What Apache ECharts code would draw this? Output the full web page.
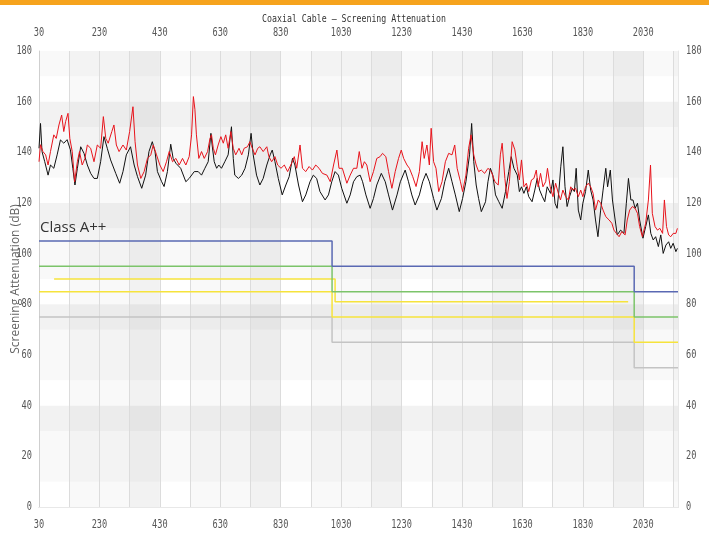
<!DOCTYPE html>
<html>
<head>
<meta charset="utf-8">
<script src="https://cdn.jsdelivr.net/npm/echarts/dist/echarts.min.js"></script>
<style>
html,body{margin:0;padding:0;background:#fff;}
#chart{width:709px;height:541px;}
</style>
</head>
<body>
<div id="chart"></div>
<script>
// ---- Data ----
const chartTitle = 'Coaxial Cable – Screening Attenuation';
const yAxisName = 'Screening Attenuation (dB)';
const classLabel = 'Class A++';

const xMin = 30, xMax = 2145;
const yMin = 0, yMax = 180;
const xTickLabels = [30, 230, 430, 630, 830, 1030, 1230, 1430, 1630, 1830, 2030];
const yTickLabels = [0, 20, 40, 60, 80, 100, 120, 140, 160, 180];

// black trace: frequency / attenuation
const blackFreq = [30,35,40,49,60,68,79,90,101,112,123,134,142,149,157,168,179,190,201,212,223,234,245,256,267,284,297,308,319,333,345,356,370,383,394,405,414,422,436,444,455,466,474,483,499,516,527,544,
557,568,579,590,599,603,610,618,625,634,645,656,667,673,678,690,701,712,723,732,739,750,761,772,784,795,802,811,822,835,847,858,869,877,889,902,913,927,938,949,960,977,988,999,1010,1021,1032,1049,1060,1071,
1082,1093,1101,1112,1126,1137,1148,1163,1176,1187,1200,1215,1226,1242,1253,1264,1275,1289,1300,1311,1322,1336,1347,1362,1373,1386,1397,1408,1421,1432,1443,1455,1462,1469,1477,1485,1494,1508,1516,1524,1532,1541,1552,1563,1574,1585,1593,1602,1613,1620,
1627,1635,1643,1651,1662,1671,1679,1687,1696,1704,1712,1723,1731,1738,1745,1751,1757,1764,1771,1778,1786,1795,1802,1808,1815,1823,1830,1839,1848,1856,1864,1872,1880,1889,1897,1906,1912,1921,1928,1937,1944,1955,1966,1974,1981,1989,1996,2003,2011,2018,2029,2038,2047,2055,2063,2071,2080,2088,2096,2105,2114,2121,2129,2138,2143];
const blackVal = [141.6,151.4,140.3,136.3,131,135,133.7,139,144.9,143.6,145,141,133.7,127.1,133.7,142.2,139.6,135,131.7,129.7,129.7,136.3,146.2,141.6,137,131.7,127.8,132.4,139,142.2,135,130.4,125.8,131,140.3,144.2,140.3,132.4,128.4,126.5,132.4,143.2,137.6,135.7,133.7,128.4,129.7,132.4,
132.4,131,133.7,136.3,147.5,142.9,136.3,133.7,135,133.7,136.3,139,150.1,137.6,131,129.7,131,133.7,139,147.5,139,131,127.1,129.7,135,139,140.9,136.3,129.7,123.2,127.1,130.4,137.6,135,127.1,120.5,123.2,128.4,131,129.7,124.5,121.2,123.2,128.4,132.4,131,125.8,119.9,123.2,128.4,
130.4,131,128.4,123.2,117.9,121.8,127.1,131.7,128.4,123.2,117.2,123.2,128.4,133,128.4,123.2,119.2,123.2,128.4,131.7,128.4,121.8,117.2,121.8,128.4,133.7,128.4,123.2,116.6,121.8,128.4,139,151.4,136.3,127.1,121.8,116.6,120.5,128.4,133.7,131,123.2,120.5,117.9,124.5,132.4,138.3,133.7,131,124.5,
126.4,123.8,126.4,122.5,120.5,125.1,129.7,125.1,122.5,120.5,126.4,123.8,129.1,119.9,117.9,125.1,134.3,142.2,126.4,118.6,122.5,125.8,124.5,133.7,117.2,113.3,119.9,124.5,133,125.1,121.2,113.3,106.7,117.2,125.1,133.7,126.4,133,121.2,113.3,107.4,109.3,108,119.9,129.7,121.2,121.2,117.9,119.9,113.3,106.1,110.7,115.3,108,105.4,106.7,102.8,107.4,100.1,103.4,104.7,102.1,104.1,100.8,102.1];

// red trace: frequency / attenuation
const redFreq = [30,35,43,52,60,68,79,87,96,105,112,118,126,132,140,148,157,164,173,182,190,201,212,223,234,243,251,259,271,278,286,295,308,319,330,341,348,356,367,378,389,400,408,419,430,441,452,461,472,483,494,505,516,527,535,541,
546,551,559,568,577,588,596,601,607,614,623,632,640,648,656,665,673,681,692,701,709,720,728,736,745,754,761,772,784,791,800,811,820,831,842,853,866,875,883,894,902,913,924,935,946,957,968,983,994,1005,1016,1023,1034,1049,1060,1071,1082,1090,
1099,1107,1115,1126,1137,1148,1159,1167,1178,1187,1198,1209,1220,1229,1237,1248,1256,1267,1278,1289,1298,1305,1314,1322,1328,1336,1344,1353,1364,1375,1386,1397,1406,1414,1425,1432,1443,1452,1460,1469,1477,1485,1494,1505,1516,1527,1539,1550,1557,1563,1572,1579,1587,1596,1605,1613,1620,
1627,1635,1643,1651,1660,1668,1676,1682,1690,1698,1707,1713,1722,1731,1740,1749,1756,1764,1773,1782,1790,1797,1806,1815,1823,1830,1839,1848,1856,1864,1872,1881,1889,1897,1906,1917,1926,1933,1941,1950,1959,1970,1977,1985,1994,2003,2011,2018,2027,2038,2047,2054,2060,2069,2077,2085,2094,2100,2107,2114,2121,2129,2138,2143];
const redVal = [136.3,143,140.3,139,135,140.3,146.9,145.5,150.8,154.7,148.2,152.1,155.4,145.5,140.3,128.4,136.3,140.3,135,137.6,142.9,141.6,136.3,142.9,141.6,154.1,145.5,143.6,148.2,150.8,142.9,140.3,142.9,140.9,148.2,158,144.2,135,129.7,132.4,137.6,139,142.9,139,135,132.4,136.3,140.3,136.3,137.6,135,137.6,135,138.3,146.9,162,
157,146.9,137.6,140.3,137.6,140.3,145.5,146.9,141.6,139,142.9,146.2,143.6,146.9,141.6,148.2,141.6,139,141.6,139,141.6,142.2,144.2,141.6,139,141.6,142.2,140.3,142.2,138.3,136.3,138.3,135,133.7,135,132.4,135.7,138.3,133.7,142.9,133.7,132.4,134.4,133,135,133.7,131.7,131,128.4,135,140.9,133.7,133.7,127.8,131,133.7,133.7,140.3,
133.7,136.3,135,128.4,132.4,137.6,138.3,139.6,138.3,132.4,125.8,132.4,137.6,140.9,137.6,135,133.7,130.4,126.5,132.4,144.2,137.6,142.9,135,149.5,136.3,133.7,124.5,128.4,136.3,139.6,139,142.9,133.7,128.4,124.5,131,141.6,146.9,139,135,132.4,133,131.7,133.7,132.4,128.4,127.1,139,143.6,129.7,121.8,128.4,144.2,141,134.3,129.1,
137,126.4,127.8,124.5,129.1,129.7,133,126.4,131.7,126.4,128.4,133.7,126.4,122.5,127.8,123.8,121.2,125.1,122.5,121.2,126.4,125.1,125.8,122.5,125.1,122.5,126.4,127.8,126.4,123.8,117.2,121.2,119.9,117.2,114.6,113.3,112,109.3,108,106.7,108.7,107.4,113.3,117.2,118.6,117.9,115.9,110.7,106.7,112,121.2,135,115.9,110.7,109.3,110,108,121.2,110.7,107.4,106.7,108,108,110];

// class limit lines (step levels between breakpoints)
const limitEdges = [30, 1000, 2000, 2145];
const limitBlue   = [105, 95, 85];
const limitGreen  = [95, 85, 75];
const limitYellow = [85, 75, 65];
const limitGray   = [75, 65, 55];
const limit2Edges = [80, 1010, 1980];
const limit2Yellow = [90, 81];

// ---- Build ----
function pairs(xs, ys){ return xs.map((x,i)=>[x, ys[i]]); }
function steps(edges, levels){
  const d = levels.map((v,i)=>[edges[i], v]);
  d.push([edges[edges.length-1], levels[levels.length-1]]);
  return d;
}
const bandColors = ['rgba(0,0,0,0)','rgba(0,0,0,0.022)','rgba(0,0,0,0.022)','rgba(0,0,0,0.05)'];
const tickFont = "11.5px 'DejaVu Sans Mono', monospace";
const squeeze = 0.75;

function limitSeries(name, data, color){
  return {name, type:'line', step:'end', data, showSymbol:false, symbol:'none',
    lineStyle:{color, width:1.5}, itemStyle:{color}, z:2, silent:true};
}

const chart = echarts.init(document.getElementById('chart'), null, {renderer:'canvas'});
chart.setOption({
  animation:false,
  backgroundColor:'#ffffff',
  grid:{left:39, right:31, top:51, bottom:34, containLabel:false, outerBoundsMode:'none'},
  xAxis:[
    {type:'value', position:'bottom', min:xMin, max:xMax, interval:100,
      axisLine:{show:true, lineStyle:{color:'#cfcfcf'}}, axisTick:{show:false},
      axisLabel:{show:false},
      splitLine:{show:true, lineStyle:{color:'#dcdcdc', width:1}},
      splitArea:{show:true, areaStyle:{color:bandColors}}},
    {type:'value', position:'top', min:xMin, max:xMax, interval:100,
      axisLine:{show:true, lineStyle:{color:'#e8e8e8'}}, axisTick:{show:false},
      axisLabel:{show:false}, splitLine:{show:false}}
  ],
  yAxis:[
    {type:'value', position:'left', min:yMin, max:yMax, interval:10,
      name:yAxisName, nameLocation:'middle', nameGap:17, nameRotate:90, nameMoveOverlap:false,
      nameTextStyle:{fontFamily:"'Open Sans', sans-serif", fontSize:12, color:'#666'},
      axisLine:{show:true, lineStyle:{color:'#cfcfcf'}}, axisTick:{show:false},
      axisLabel:{show:false},
      splitLine:{show:false},
      splitArea:{show:true, areaStyle:{color:bandColors}}},
    {type:'value', position:'right', min:yMin, max:yMax, interval:10,
      axisLine:{show:true, lineStyle:{color:'#e8e8e8'}}, axisTick:{show:false},
      axisLabel:{show:false}, splitLine:{show:false}}
  ],
  series:[
    limitSeries('Gray', steps(limitEdges, limitGray), '#c4c4c4'),
    limitSeries('Yellow', steps(limitEdges, limitYellow), '#f6e33c'),
    limitSeries('Yellow 2', steps(limit2Edges, limit2Yellow), '#f6e33c'),
    limitSeries('Green', steps(limitEdges, limitGreen), '#7cc46a'),
    limitSeries('Blue', steps(limitEdges, limitBlue), '#5a69b3'),
    {name:'Black', type:'line', data:pairs(blackFreq, blackVal), showSymbol:false, symbol:'none',
      lineStyle:{color:'#111', width:1}, z:3, silent:true},
    {name:'Red', type:'line', data:pairs(redFreq, redVal), showSymbol:false, symbol:'none',
      lineStyle:{color:'#e8141c', width:1}, z:4, silent:true}
  ]
});

// tick labels and title as squeezed monospace text, placed with the axes' own scales
function squeezedText(text, x, y, align, font, fill){
  return {type:'text', x, y, scaleX:squeeze, silent:true, z:100,
    style:{text, font, fill, align, verticalAlign:'middle'}};
}
const gridRect = chart.getModel().getComponent('grid', 0).coordinateSystem.getRect();
const els = [
  {type:'rect', x:0, y:0, shape:{width:709, height:5}, style:{fill:'#f6a31d'}, silent:true},
  squeezedText(chartTitle, 354, 19, 'center', "11px 'DejaVu Sans Mono', monospace", '#333'),
  {type:'text', x:40, y:228, silent:true, z:100,
    style:{text:classLabel, font:"15px 'Open Sans', sans-serif", fill:'#333', align:'left', verticalAlign:'middle'}}
];
xTickLabels.forEach(v => {
  const px = chart.convertToPixel({xAxisIndex:0}, v);
  els.push(squeezedText(String(v), px, gridRect.y + gridRect.height + 18, 'center', tickFont, '#555'));
  els.push(squeezedText(String(v), px, gridRect.y - 18, 'center', tickFont, '#555'));
});
yTickLabels.forEach(v => {
  const py = chart.convertToPixel({yAxisIndex:0}, v);
  els.push(squeezedText(String(v), gridRect.x - 7, py, 'right', tickFont, '#555'));
  els.push(squeezedText(String(v), gridRect.x + gridRect.width + 8, py, 'left', tickFont, '#555'));
});
chart.setOption({graphic:{elements:els}});
</script>
</body>
</html>
